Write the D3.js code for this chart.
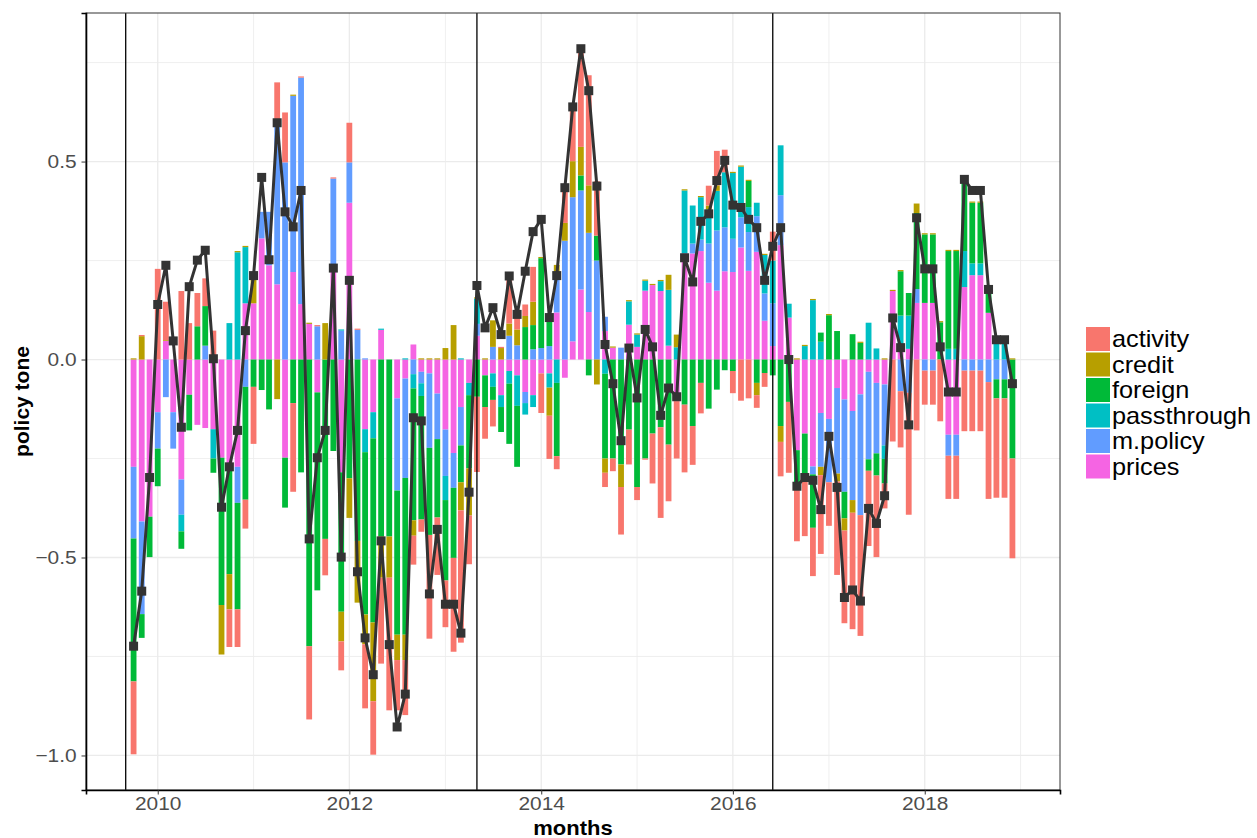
<!DOCTYPE html>
<html>
<head>
<meta charset="utf-8">
<script src="https://cdn.jsdelivr.net/npm/d3@7"></script>
<style>
  body { margin: 0; background: #fff; }
  svg { display: block; font-family: "Liberation Sans", Arial, sans-serif; }
</style>
</head>
<body>
<div id="chart"></div>
<script>
// Monthly policy tone, decomposed by topic

const months = [
  "2009-10","2009-11","2009-12",
  "2010-01","2010-02","2010-03","2010-04","2010-05","2010-06","2010-07","2010-08","2010-09","2010-10","2010-11","2010-12",
  "2011-01","2011-02","2011-03","2011-04","2011-05","2011-06","2011-07","2011-08","2011-09","2011-10","2011-11","2011-12",
  "2012-01","2012-02","2012-03","2012-04","2012-05","2012-06","2012-07","2012-08","2012-09","2012-10","2012-11","2012-12",
  "2013-01","2013-02","2013-03","2013-04","2013-05","2013-06","2013-07","2013-08","2013-09","2013-10","2013-11","2013-12",
  "2014-01","2014-02","2014-03","2014-04","2014-05","2014-06","2014-07","2014-08","2014-09","2014-10","2014-11","2014-12",
  "2015-01","2015-02","2015-03","2015-04","2015-05","2015-06","2015-07","2015-08","2015-09","2015-10","2015-11","2015-12",
  "2016-01","2016-02","2016-03","2016-04","2016-05","2016-06","2016-07","2016-08","2016-09","2016-10","2016-11","2016-12",
  "2017-01","2017-02","2017-03","2017-04","2017-05","2017-06","2017-07","2017-08","2017-09","2017-10","2017-11","2017-12",
  "2018-01","2018-02","2018-03","2018-04","2018-05","2018-06","2018-07","2018-08","2018-09","2018-10","2018-11","2018-12"
];

const activity = [
  -0.184, 0.003, 0,
  0.229, 0.097, 0, 0.173, 0.092, 0.084, 0.07, 0.073, 0, -0.095, -0.095, -0.073,
  -0.144, 0, 0, 0.10, 0.126, -0.224, 0.003, -0.185, 0.003, -0.092, 0.003, -0.073,
  0.10, 0.003, -0.162, -0.135, -0.217, -0.335, -0.127, -0.139, -0.073, -0.031, -0.262, -0.145,
  -0.118, -0.237, -0.334, -0.123, -0.19, -0.08, -0.067, 0.003, 0.12, 0.05, 0.029, 0.088,
  -0.1, -0.109, -0.033, 0.09, 0.14, 0.249, 0.278, 0.137, -0.036, -0.032, -0.12, -0.088,
  -0.033, -0.003, -0.126, -0.229, -0.143, -0.145, -0.171, -0.098, -0.077, 0.05, 0.087, 0.057,
  -0.056, -0.104, -0.098, -0.032, -0.035, 0.073, -0.087, -0.179, -0.146, -0.141, -0.122, -0.199,
  -0.11, -0.236, -0.234, -0.294, -0.305, -0.19, -0.206, -0.063, -0.207, -0.142, -0.308, -0.179,
  -0.086, -0.086, -0.156, -0.109, -0.109, -0.153, -0.153, -0.153, -0.295, -0.251, -0.251, -0.252
];

const credit = [
  0.003, 0.059, 0,
  0, 0.002, 0, 0, 0, 0, 0, 0, -0.125, -0.089, 0.003, 0.003,
  0.069, 0, 0, -0.10, 0, 0.003, 0, 0.003, 0, 0.092, 0, -0.075,
  -0.10, -0.156, -0.075, -0.199, -0.104, -0.104, -0.064, -0.064, -0.039, 0.003, 0.003, 0.003,
  0.029, 0.087, -0.071, -0.119, 0.003, 0.003, 0.067, 0.029, 0.031, 0.04, 0.028, 0.059,
  0.003, -0.071, 0.02, 0.045, 0.091, 0.072, 0.12, -0.063, -0.036, 0.003, -0.057, 0.003,
  0.003, 0.003, 0.003, 0.003, 0.038, 0.032, 0.003, 0, 0.003, 0.01, 0.014, 0,
  0.003, 0.003, 0.003, -0.031, 0.003, 0, -0.04, 0, 0.003, 0.003, 0.003, -0.021,
  0.003, -0.02, -0.031, -0.032, 0.003, 0, 0, 0.003, 0.003, 0.003, 0, 0.024,
  0.003, 0.003, 0.003, 0.003, 0.003, 0, 0.003, 0.003, 0, 0, 0, 0.003
];

const foreign = [
  -0.361, -0.060, -0.102,
  -0.095, 0, 0, -0.044, -0.090, 0.084, 0.10, -0.036, -0.372, -0.271, -0.269, -0.285,
  -0.069, -0.077, -0.126, 0, -0.126, -0.110, -0.285, -0.724, -0.50, -0.453, -0.231, -0.352,
  -0.30, -0.458, -0.41, -0.465, -0.447, -0.447, -0.364, -0.396, -0.333, -0.312, -0.22, -0.198,
  -0.203, -0.177, -0.093, -0.185, -0.094, -0.08, -0.033, -0.063, -0.152, -0.154, 0.082, 0.061,
  0.227, 0.069, -0.185, 0, 0, 0.038, -0.04, 0.063, -0.214, -0.25, -0.265, -0.177,
  -0.322, -0.25, -0.187, -0.171, -0.215, 0, -0.114, -0.168, -0.059, -0.124, -0.076, -0.027,
  -0.029, 0, 0.066, -0.059, -0.034, -0.04, -0.168, -0.107, -0.084, -0.118, -0.135, 0.023,
  0.112, 0.072, -0.067, 0.064, 0.042, -0.029, -0.056, -0.062, 0, 0.112, 0.057, 0.192,
  0.173, 0.173, 0.094, 0.247, 0.247, 0.186, 0.153, 0.153, 0.06, -0.048, -0.048, -0.25
];

const passthrough = [
  0, 0, 0,
  0, 0, 0, -0.042, 0, 0, 0, -0.074, 0, 0.092, 0.271, 0.142,
  0, 0, 0, 0, 0, 0, 0, 0, 0, 0, 0, 0.003,
  0, 0, -0.058, -0.066, 0.003, 0, 0, 0.003, -0.036, -0.032, 0, 0,
  -0.061, 0, 0.003, -0.031, 0.064, 0, -0.034, -0.03, -0.032, -0.077, -0.029, -0.03,
  0, -0.036, -0.059, 0, 0, 0, 0, 0, -0.036, 0, 0, 0.059,
  0.031, 0.025, 0, 0.025, 0.141, 0.031, 0.159, 0.096, 0.107, 0.086, 0.1, 0.139,
  0.166, 0.128, 0.063, 0.034, 0.097, 0.108, 0.126, 0.035, 0, 0.034, 0.15, 0.045,
  0, 0, 0, 0, 0, 0.093, 0.028, -0.034, 0, 0.084, 0.084, 0,
  0, 0, 0, 0.027, 0.027, 0.091, 0.03, 0.03, 0, 0.05, 0.05, 0
];

const mpolicy = [
  -0.181, -0.234, 0,
  -0.092, -0.095, -0.092, -0.089, 0, 0, 0.035, 0, 0, 0, -0.091, -0.069,
  0, 0.067, 0.135, 0.41, 0.498, 0.445, 0.572, 0, 0.084, 0, 0.226, 0.073,
  0.102, 0.075, 0.003, 0, 0, 0, -0.233, -0.251, -0.037, -0.029, -0.188, -0.115,
  -0.117, -0.088, -0.097, 0, 0.03, 0, 0.032, 0, 0.06, 0.036, -0.028, 0.026,
  0.029, 0.034, 0.10, 0.30, 0.364, 0.25, 0.2, 0.25, 0.036, 0, 0.03, 0,
  0, 0, 0, 0, 0, 0, 0, 0.025, 0.029, 0.099, 0.152, 0.111,
  0.084, 0.076, 0.098, 0.09, 0.069, 0.108, 0.126, 0, 0, 0, -0.02, -0.136,
  -0.16, -0.216, -0.233, -0.225, -0.305, -0.221, -0.178, -0.154, 0, -0.08, -0.084, 0.035,
  -0.028, -0.028, 0, -0.053, -0.053, -0.028, -0.028, -0.028, -0.057, -0.05, -0.05, 0
];

const prices = [
  -0.271, -0.409, -0.397,
  -0.133, 0.047, -0.133, -0.303, -0.089, -0.165, -0.173, -0.176, -0.248, -0.271, -0.271, 0.142,
  0.142, 0.306, 0.238, 0.19, -0.248, 0.221, 0.14, 0.09, -0.083, 0, 0.231, -0.285,
  0.396, 0, -0.176, -0.133, 0.075, 0, -0.098, -0.048, 0.038, -0.031, -0.035, -0.086,
  -0.177, -0.236, -0.12, -0.059, 0.06, -0.04, -0.035, -0.09, -0.029, -0.04, -0.082, -0.09,
  -0.035, -0.035, 0.119, -0.046, 0.046, 0.177, 0.12, 0, 0.072, 0.03, 0, 0.088,
  0.032, 0.174, 0.188, 0.173, 0.035, -0.105, 0.268, 0.268, 0.274, 0.194, 0.174, 0.223,
  0.221, 0.283, 0.224, 0.272, 0.098, 0.034, 0.289, 0.106, -0.229, -0.187, -0.27, -0.135,
  -0.15, -0.072, -0.101, -0.13, -0.088, -0.031, -0.059, -0.063, 0.173, 0.027, 0.027, 0.143,
  0.143, 0.143, 0, -0.19, -0.19, 0.183, 0.213, 0.213, 0.118, 0, 0, 0
];

// overall tone (line with square markers)
const tone = [
  -0.724, -0.585, -0.298,
  0.139, 0.238, 0.047, -0.171, 0.184, 0.251, 0.276, 0.002, -0.373, -0.271, -0.179, 0.073,
  0.212, 0.46, 0.252, 0.598, 0.373, 0.335, 0.427, -0.453, -0.248, -0.179, 0.231, -0.499,
  0.20, -0.536, -0.703, -0.796, -0.458, -0.72, -0.928, -0.845, -0.147, -0.155, -0.592, -0.429,
  -0.618, -0.618, -0.691, -0.335, 0.187, 0.08, 0.131, 0.063, 0.211, 0.114, 0.223, 0.323,
  0.354, 0.106, 0.212, 0.434, 0.638, 0.785, 0.679, 0.438, 0.038, -0.061, -0.205, 0.029,
  -0.097, 0.076, 0.032, -0.141, -0.072, -0.094, 0.257, 0.196, 0.349, 0.368, 0.452, 0.503,
  0.39, 0.384, 0.354, 0.333, 0.2, 0.286, 0.333, 0.0, -0.32, -0.298, -0.305, -0.379,
  -0.194, -0.323, -0.601, -0.582, -0.61, -0.376, -0.414, -0.344, 0.105, 0.03, -0.165, 0.358,
  0.229, 0.229, 0.032, -0.082, -0.082, 0.455, 0.427, 0.427, 0.177, 0.05, 0.05, -0.061
];

// vertical reference lines
const breaks = ["2009-09", "2013-05", "2016-06"];

const yTicks = [-1.0, -0.5, 0.0, 0.5];
const xTickYears = [2010, 2012, 2014, 2016, 2018];

const legendKeys = ["activity", "credit", "foreign", "passthrough", "m.policy", "prices"];
const colors = {
  "activity": "#F8766D",
  "credit": "#B79F00",
  "foreign": "#00BA38",
  "passthrough": "#00BFC4",
  "m.policy": "#619CFF",
  "prices": "#F564E3"
};

function drawChart() {
    const margin = {top: 13, right: 197, bottom: 48, left: 86},
          width = 1257 - margin.left - margin.right,
          height = 838 - margin.top - margin.bottom;

    // text in the reference is drawn slightly wide
    const stretch = "scale(1.1,1)";

    const parse = d3.timeParse("%Y-%m");
    const dates = months.map(parse);

    const seriesByKey = {
        "activity": activity, "credit": credit, "foreign": foreign,
        "passthrough": passthrough, "m.policy": mpolicy, "prices": prices
    };

    const rows = dates.map((d, i) => {
        const r = {date: d, tone: tone[i]};
        legendKeys.forEach(k => r[k] = seriesByKey[k][i]);
        return r;
    });

    // stacking order from zero outwards: prices first, activity last
    const stackKeys = legendKeys.slice().reverse();
    const stacked = d3.stack().keys(stackKeys).offset(d3.stackOffsetDiverging)(rows);

    // ggplot-like expansion: bars 0.9 * 28 days wide, 5% padding
    const day = 864e5;
    const half = 0.9 * 28 / 2 * day;
    const xLo = +d3.min(dates) - half, xHi = +d3.max(dates) + half;
    const xPad = (xHi - xLo) * 0.05;
    const x = d3.scaleTime()
        .domain([new Date(xLo - xPad), new Date(xHi + xPad)])
        .range([0, width]);

    const yLo = Math.min(d3.min(stacked, s => d3.min(s, d => d[0])), d3.min(tone));
    const yHi = Math.max(d3.max(stacked, s => d3.max(s, d => d[1])), d3.max(tone));
    const yPad = (yHi - yLo) * 0.05;
    const y = d3.scaleLinear()
        .domain([yLo - yPad, yHi + yPad])
        .range([height, 0]);

    d3.select("#chart").html("");
    const root = d3.select("#chart")
        .append("svg")
        .attr("width", 1257)
        .attr("height", 838);

    const svg = root.append("g")
        .attr("transform", `translate(${margin.left},${margin.top})`);

    // grid
    const minorY = [-0.75, -0.25, 0.25, 0.75];
    svg.selectAll(".gy-minor").data(minorY).enter().append("line")
        .attr("x1", 0).attr("x2", width)
        .attr("y1", d => y(d)).attr("y2", d => y(d))
        .attr("stroke", "#ebebeb").attr("stroke-width", 0.8);
    svg.selectAll(".gy-major").data(yTicks).enter().append("line")
        .attr("x1", 0).attr("x2", width)
        .attr("y1", d => y(d)).attr("y2", d => y(d))
        .attr("stroke", "#ebebeb").attr("stroke-width", 1.3);

    const minorYears = [2009, 2011, 2013, 2015, 2017, 2019];
    svg.selectAll(".gx-minor").data(minorYears.map(v => new Date(v, 0, 1)))
        .enter().append("line")
        .attr("x1", d => x(d)).attr("x2", d => x(d))
        .attr("y1", 0).attr("y2", height)
        .attr("stroke", d => (x(d) < 0 || x(d) > width) ? "none" : "#ebebeb")
        .attr("stroke-width", 0.8);
    svg.selectAll(".gx-major").data(xTickYears.map(v => new Date(v, 0, 1)))
        .enter().append("line")
        .attr("x1", d => x(d)).attr("x2", d => x(d))
        .attr("y1", 0).attr("y2", height)
        .attr("stroke", "#ebebeb").attr("stroke-width", 1.3);

    // stacked bars
    const barW = 5.8;
    svg.selectAll(".layer")
        .data(stacked)
        .enter()
        .append("g")
        .attr("fill", s => colors[s.key])
        .selectAll("rect")
        .data(s => s.filter(d => d[1] !== d[0]))
        .enter()
        .append("rect")
        .attr("x", d => x(d.data.date) - barW / 2)
        .attr("y", d => y(Math.max(d[0], d[1])))
        .attr("width", barW)
        .attr("height", d => Math.abs(y(d[0]) - y(d[1])));

    // vertical reference lines
    svg.selectAll(".break")
        .data(breaks.map(parse))
        .enter()
        .append("line")
        .attr("x1", d => x(d)).attr("x2", d => x(d))
        .attr("y1", 0).attr("y2", height)
        .attr("stroke", "#000").attr("stroke-width", 1.3);

    // tone line and markers
    const line = d3.line()
        .x(d => x(d.date))
        .y(d => y(d.tone));

    svg.append("path")
        .datum(rows)
        .attr("d", line)
        .attr("fill", "none")
        .attr("stroke", "#333333")
        .attr("stroke-width", 3)
        .attr("stroke-linejoin", "round");

    const m = 9;
    svg.selectAll(".mark")
        .data(rows)
        .enter()
        .append("rect")
        .attr("x", d => x(d.date) - m / 2)
        .attr("y", d => y(d.tone) - m / 2)
        .attr("width", m)
        .attr("height", m)
        .attr("fill", "#333333");

    // panel border
    svg.append("rect")
        .attr("x", 0).attr("y", 0)
        .attr("width", width).attr("height", height)
        .attr("fill", "none")
        .attr("stroke", "#333333")
        .attr("stroke-width", 1);

    // axes
    const yAxis = svg.append("g")
        .call(d3.axisLeft(y).tickValues(yTicks).tickFormat(d3.format(".1f")).tickSize(4.5).tickPadding(4));
    yAxis.select(".domain").attr("stroke", "#000").attr("stroke-width", 1.6);
    yAxis.selectAll(".tick line").attr("stroke", "#333");
    yAxis.selectAll("text")
        .attr("fill", "#4d4d4d")
        .style("font-size", "19px")
        .attr("transform", stretch);

    const xAxis = svg.append("g")
        .attr("transform", `translate(0,${height})`)
        .call(d3.axisBottom(x).tickValues(xTickYears.map(v => new Date(v, 0, 1)))
            .tickFormat(d3.timeFormat("%Y")).tickSize(4.5).tickPadding(2));
    xAxis.select(".domain").attr("stroke", "#000").attr("stroke-width", 1.6);
    xAxis.selectAll(".tick line").attr("stroke", "#333");
    xAxis.selectAll("text")
        .attr("fill", "#4d4d4d")
        .style("font-size", "19px")
        .attr("transform", stretch);

    // axis titles
    root.append("text")
        .attr("transform", `translate(29,${margin.top + height / 2}) rotate(-90)`)
        .attr("text-anchor", "middle")
        .style("font-size", "21px")
        .style("font-weight", "bold")
        .text("policy tone");

    root.append("g")
        .attr("transform", `translate(${margin.left + width / 2},835)`)
        .append("text")
        .attr("transform", stretch)
        .attr("text-anchor", "middle")
        .style("font-size", "20px")
        .style("font-weight", "bold")
        .text("months");

    // legend
    const legend = root.append("g")
        .attr("transform", "translate(1086,327)");
    const item = legend.selectAll(".item")
        .data(legendKeys)
        .enter()
        .append("g")
        .attr("transform", (d, i) => `translate(0,${i * 25.5})`);
    item.append("rect")
        .attr("width", 24).attr("height", 24)
        .attr("fill", d => colors[d]);
    item.append("g")
        .attr("transform", "translate(26,20)")
        .append("text")
        .attr("transform", stretch)
        .style("font-size", "23px")
        .attr("fill", "#000")
        .text(d => d);
}

drawChart();
</script>
</body>
</html>
